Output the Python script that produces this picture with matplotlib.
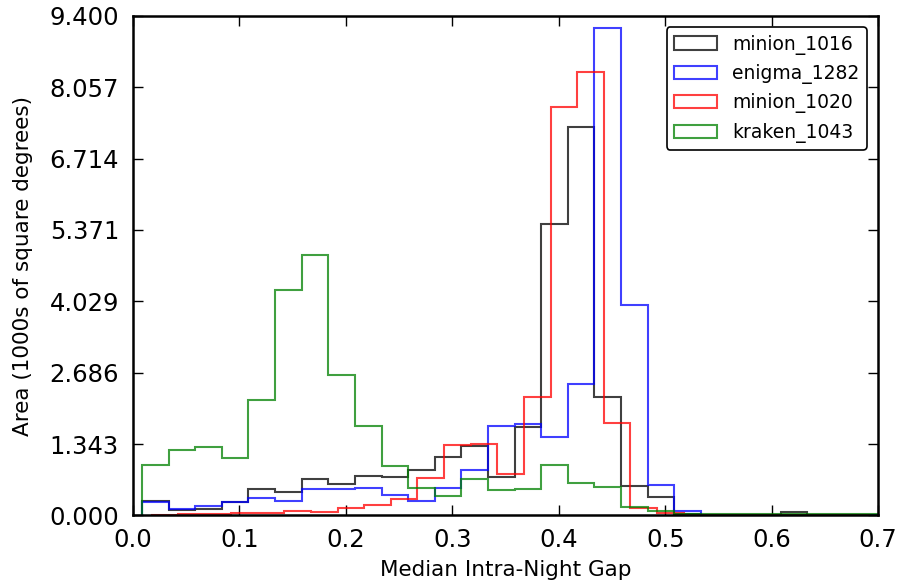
import numpy as np
import matplotlib
matplotlib.use('Agg')
import matplotlib.pyplot as plt

# bins shared by three runs, red one is shifted a bit
bin_start = 0.0085
bin_start_red = 0.0172
bin_width = 0.025

minion_1016 = [0.27, 0.10, 0.12, 0.26, 0.49, 0.44, 0.68, 0.59, 0.74, 0.72,
               0.86, 1.10, 1.30, 0.72, 1.66, 5.49, 7.31, 2.22, 0.56, 0.34,
               0.02, 0.01, 0.01, 0.01, 0.06, 0.01, 0.01, 0.01]
enigma_1282 = [0.25, 0.12, 0.18, 0.26, 0.33, 0.28, 0.49, 0.50, 0.52, 0.39,
               0.27, 0.51, 0.86, 1.69, 1.72, 1.48, 2.47, 9.17, 3.96, 0.57,
               0.08, 0.01, 0.005, 0.005, 0.005, 0.005, 0.005, 0.005]
minion_1020 = [0.0, 0.03, 0.03, 0.04, 0.05, 0.08, 0.06, 0.13, 0.19, 0.30,
               0.70, 1.33, 1.35, 0.78, 2.22, 7.68, 8.34, 1.74, 0.14, 0.04,
               0.01, 0.005, 0.005, 0.005, 0.005, 0.005, 0.005]
kraken_1043 = [0.95, 1.23, 1.28, 1.08, 2.18, 4.25, 4.89, 2.65, 1.68, 0.93,
               0.51, 0.37, 0.68, 0.48, 0.50, 0.95, 0.61, 0.54, 0.15, 0.08,
               0.03, 0.02, 0.02, 0.02, 0.02, 0.02, 0.02, 0.02]

runs = [('minion_1016', minion_1016, bin_start, 'k'),
        ('enigma_1282', enigma_1282, bin_start, 'b'),
        ('minion_1020', minion_1020, bin_start_red, 'r'),
        ('kraken_1043', kraken_1043, bin_start, 'g')]

plt.rcParams['xtick.direction'] = 'in'
plt.rcParams['ytick.direction'] = 'in'

fig = plt.figure(figsize=(8.98, 5.85), dpi=100)
ax = fig.add_axes([0.148, 0.119, 0.830, 0.854])

for name, vals, start, col in runs:
    vals = np.array(vals)
    edges = start + bin_width * np.arange(len(vals) + 1)
    ax.hist(edges[:-1], bins=edges, weights=vals, histtype='step',
            color=col, alpha=0.75, linewidth=1.5, label=name)

ax.set_xlim(0, 0.7)
ax.set_ylim(0, 9.4)
ax.set_xticks(np.arange(0, 0.71, 0.1))
ax.set_xticklabels(['%.1f' % t for t in np.arange(0, 0.71, 0.1)])
yt = np.linspace(0, 9.4, 8)
ax.set_yticks(yt)
ax.set_yticklabels(['%.3f' % t for t in yt])
ax.tick_params(labelsize=17.5, length=7, width=1, top=True, right=True)
ax.tick_params(axis='x', pad=9)
ax.tick_params(axis='y', pad=10)
for s in ax.spines.values():
    s.set_linewidth(1.8)

ax.set_xlabel('Median Intra-Night Gap', fontsize=15.5, labelpad=6)
ax.set_ylabel('Area (1000s of square degrees)', fontsize=15.5, labelpad=12)

leg = ax.legend(loc='upper right', fontsize=13.5, framealpha=1,
                handlelength=2.3, borderaxespad=0.6)
leg.get_frame().set_edgecolor('k')
leg.get_frame().set_linewidth(1.2)

fig.savefig('out.png', dpi=100)
